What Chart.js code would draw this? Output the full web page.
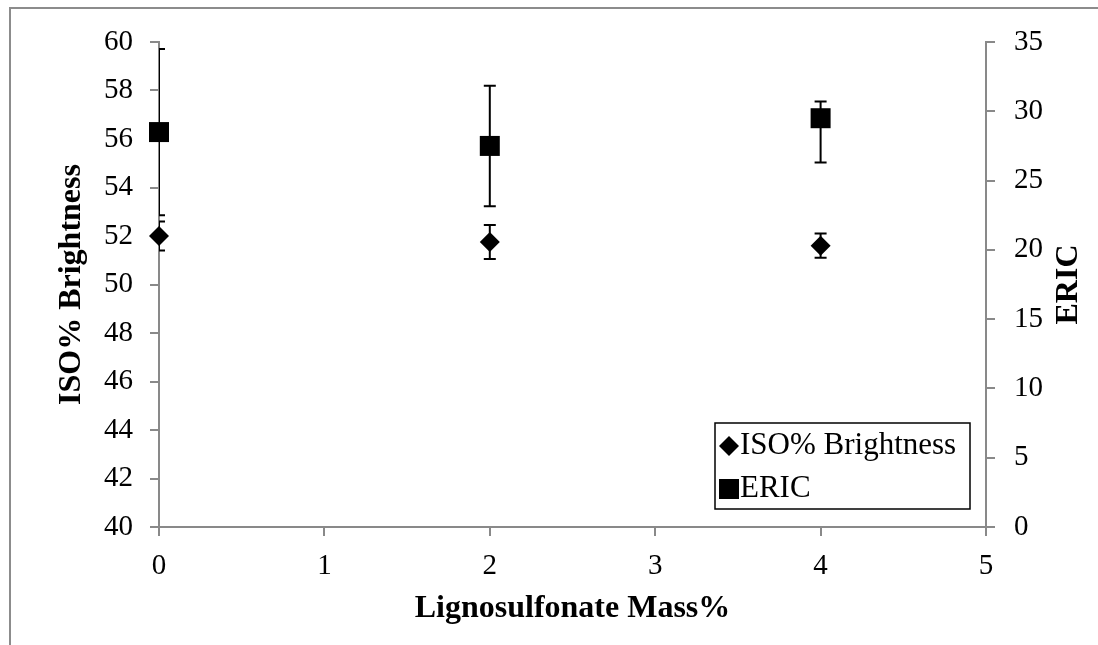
<!DOCTYPE html>
<html>
<head>
<meta charset="utf-8">
<script src="https://cdn.jsdelivr.net/npm/chart.js@4/dist/chart.umd.min.js"></script>
<style>
  html, body { margin: 0; padding: 0; background: #fff; overflow: hidden; }
  #wrap { position: relative; width: 1098px; height: 645px; }
  #frame { position: absolute; left: 9px; top: 7px; width: 1200px; height: 800px; border: 2px solid #8c8c8c; }
  canvas { position: absolute; left: 0; top: 0; }
</style>
</head>
<body>
<div id="wrap">
  <div id="frame"></div>
  <canvas id="chart" width="1098" height="645"></canvas>
</div>
<script>
// lignosulfonate loading (mass %)
const massPct = [0, 2, 4];

// ISO brightness and its standard deviation
const brightness = [52.0, 51.75, 51.6];
const brightnessErr = [0.6, 0.7, 0.5];

// ERIC and its error bar (up / down)
const eric = [28.5, 27.5, 29.5];
const ericErrUp = [6.0, 4.35, 1.2];
const ericErrDown = [6.0, 4.35, 3.2];

const FONT = 'Liberation Serif, Times New Roman, serif';
const AXIS_GREY = '#898989';

const errorBars = {
  id: 'errorBars',
  beforeDatasetsDraw(chart) {
    const {ctx, chartArea: a, scales} = chart;
    const sets = [
      {ys: scales.y, val: brightness, up: brightnessErr, down: brightnessErr},
      {ys: scales.y2, val: eric, up: ericErrUp, down: ericErrDown}
    ];
    ctx.save();
    ctx.beginPath();
    ctx.rect(a.left, a.top, a.right - a.left, a.bottom - a.top);
    ctx.clip();
    ctx.strokeStyle = '#000';
    ctx.lineWidth = 2;
    sets.forEach(s => {
      massPct.forEach((m, i) => {
        const x = scales.x.getPixelForValue(m);
        const yTop = s.ys.getPixelForValue(s.val[i] + s.up[i]);
        const yBot = s.ys.getPixelForValue(s.val[i] - s.down[i]);
        ctx.beginPath();
        ctx.moveTo(x, yTop); ctx.lineTo(x, yBot);
        ctx.moveTo(x - 6, yTop); ctx.lineTo(x + 6, yTop);
        ctx.moveTo(x - 6, yBot); ctx.lineTo(x + 6, yBot);
        ctx.stroke();
      });
    });
    ctx.restore();
  }
};

// boxed legend in the lower right of the plot, plus the right-hand axis title
const extras = {
  id: 'extras',
  afterDraw(chart) {
    const {ctx, chartArea: a} = chart;
    ctx.save();
    ctx.strokeStyle = '#000';
    ctx.lineWidth = 1.5;
    ctx.strokeRect(715, 423, 255, 86);

    ctx.fillStyle = '#000';
    ctx.font = '31px ' + FONT;
    ctx.textBaseline = 'middle';
    ctx.textAlign = 'left';
    chart.data.datasets.forEach((ds, i) => {
      const cy = 446 + i * 43;
      const cx = 729;
      ctx.beginPath();
      if (ds.pointStyle === 'rectRot') {
        ctx.moveTo(cx, cy - 10); ctx.lineTo(cx + 10, cy);
        ctx.lineTo(cx, cy + 10); ctx.lineTo(cx - 10, cy);
        ctx.closePath();
      } else {
        ctx.rect(cx - 10, cy - 10, 20, 20);
      }
      ctx.fill();
      ctx.fillText(ds.label, 740, cy);
    });

    ctx.font = 'bold 32px ' + FONT;
    ctx.textAlign = 'center';
    ctx.translate(1069, (a.top + a.bottom) / 2);
    ctx.rotate(-Math.PI / 2);
    ctx.fillText('ERIC', 0, 0);
    ctx.restore();
  }
};

const tickFont = {family: FONT, size: 29, lineHeight: 1.2};
const titleFont = {family: FONT, size: 32, weight: 'bold', lineHeight: 1.2};

new Chart(document.getElementById('chart'), {
  type: 'scatter',
  data: {
    datasets: [
      {
        label: 'ISO% Brightness',
        data: massPct.map((m, i) => ({x: m, y: brightness[i]})),
        yAxisID: 'y',
        pointStyle: 'rectRot',
        pointRadius: 10,
        backgroundColor: '#000',
        borderWidth: 0,
        clip: false
      },
      {
        label: 'ERIC',
        data: massPct.map((m, i) => ({x: m, y: eric[i]})),
        yAxisID: 'y2',
        pointStyle: 'rect',
        pointRadius: 14.14,
        backgroundColor: '#000',
        borderWidth: 0,
        clip: false
      }
    ]
  },
  options: {
    responsive: false,
    animation: false,
    events: [],
    layout: {autoPadding: false, padding: {top: 42, left: 0, right: 0, bottom: 0}},
    plugins: {legend: {display: false}, tooltip: {enabled: false}},
    scales: {
      x: {
        type: 'linear',
        position: 'bottom',
        min: 0, max: 5,
        ticks: {stepSize: 1, color: '#000', font: tickFont, padding: 13},
        grid: {drawOnChartArea: false, color: AXIS_GREY, lineWidth: 2, tickLength: 9},
        border: {color: AXIS_GREY, width: 2},
        title: {display: true, text: 'Lignosulfonate Mass%', color: '#000', font: titleFont, padding: {top: 0, bottom: 17}},
        afterFit(s) { s.height = 118; }
      },
      y: {
        position: 'left',
        min: 40, max: 60,
        ticks: {stepSize: 2, color: '#000', font: tickFont, padding: 17},
        grid: {drawOnChartArea: false, color: AXIS_GREY, lineWidth: 2, tickLength: 9},
        border: {color: AXIS_GREY, width: 2},
        title: {display: true, text: 'ISO% Brightness', color: '#000', font: titleFont, padding: {top: 53, bottom: 0}},
        afterFit(s) { s.width = 159; }
      },
      y2: {
        position: 'right',
        min: 0, max: 35,
        ticks: {stepSize: 5, color: '#000', font: tickFont, padding: 19},
        grid: {drawOnChartArea: false, color: AXIS_GREY, lineWidth: 2, tickLength: 9},
        border: {color: AXIS_GREY, width: 2},
        afterFit(s) { s.width = 112; }
      }
    }
  },
  plugins: [errorBars, extras]
});
</script>
</body>
</html>
